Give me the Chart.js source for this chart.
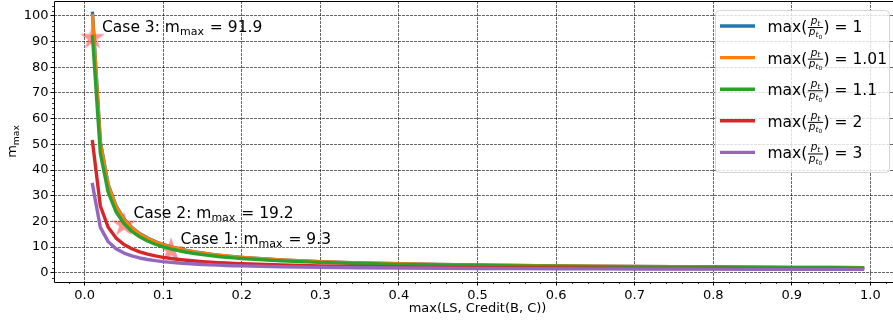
<!DOCTYPE html>
<html><head><meta charset="utf-8">
<script src="https://cdn.jsdelivr.net/npm/chart.js@4.4.0/dist/chart.umd.min.js"></script>
<style>
html,body{margin:0;padding:0;background:#fff;overflow:hidden;width:893px;height:322px;}
#wrap{position:absolute;left:0;top:0;width:905px;height:322px;}
canvas{display:block;}
</style></head><body>
<div id="wrap"><canvas id="c" width="905" height="322" style="width:905px;height:322px"></canvas></div>
<script>
// ---- data ----
const xValues = [0.01,0.02,0.03,0.04,0.05,0.06,0.07,0.08,0.09,0.10,0.11,0.12,0.13,0.14,0.15,0.16,0.17,0.18,0.19,0.20,0.25,0.30,0.35,0.40,0.45,0.50,0.55,0.60,0.65,0.70,0.75,0.80,0.85,0.90,0.95,0.99];
const mRatio1   = [101,51,34.33,26,21,17.67,15.29,13.5,12.11,11,10.09,9.33,8.69,8.14,7.67,7.25,6.88,6.56,6.26,6,5,4.33,3.86,3.5,3.22,3,2.82,2.67,2.54,2.43,2.33,2.25,2.18,2.11,2.05,2.01];
const mRatio101 = [100.01,50.5,34,25.75,20.8,17.5,15.14,13.38,12,10.9,10,9.25,8.62,8.07,7.6,7.19,6.82,6.5,6.21,5.95,4.96,4.3,3.83,3.48,3.2,2.98,2.8,2.65,2.52,2.41,2.32,2.24,2.16,2.1,2.04,2];
const mRatio11  = [91.91,46.45,31.3,23.73,19.18,16.15,13.99,12.36,11.1,10.09,9.26,8.58,7.99,7.49,7.06,6.68,6.35,6.05,5.78,5.55,4.64,4.03,3.6,3.27,3.02,2.82,2.65,2.52,2.4,2.3,2.21,2.14,2.07,2.01,1.96,1.92];
const mRatio2   = [51,26,17.67,13.5,11,9.33,8.14,7.25,6.56,6,5.55,5.17,4.85,4.57,4.33,4.13,3.94,3.78,3.63,3.5,3,2.67,2.43,2.25,2.11,2,1.91,1.83,1.77,1.71,1.67,1.63,1.59,1.56,1.53,1.51];
const mRatio3   = [34.33,17.67,12.11,9.33,7.67,6.56,5.76,5.17,4.7,4.33,4.03,3.78,3.56,3.38,3.22,3.08,2.96,2.85,2.75,2.67,2.33,2.11,1.95,1.83,1.74,1.67,1.61,1.56,1.51,1.48,1.44,1.42,1.39,1.37,1.35,1.34];
const ratioLabels = ['1','1.01','1.1','2','3'];
const seriesColors = ['#1f77b4','#ff7f0e','#2ca02c','#d62728','#9467bd'];
const caseNames = ['Case 1','Case 2','Case 3'];
const caseX = [0.11, 0.05, 0.01];
const caseY = [9.3, 19.2, 91.9];
const xTicks = [0.0,0.1,0.2,0.3,0.4,0.5,0.6,0.7,0.8,0.9,1.0];
const yTicks = [0,10,20,30,40,50,60,70,80,90,100];
const xLabel = 'max(LS, Credit(B, C))';

const FONT = '"DejaVu Sans", sans-serif';
const allSeries = [mRatio1, mRatio101, mRatio11, mRatio2, mRatio3];

// star marker image
function makeStar(R, color) {
  const s = Math.ceil(R * 2 + 2);
  const cv = document.createElement('canvas');
  cv.width = s; cv.height = s;
  const c = cv.getContext('2d');
  const cx = s / 2, cy = s / 2 + R * 0.1;
  const r = R * 0.382;
  c.beginPath();
  for (let i = 0; i < 10; i++) {
    const rad = i % 2 === 0 ? R : r;
    const a = -Math.PI / 2 + i * Math.PI / 5;
    const px = cx + rad * Math.cos(a), py = cy + rad * Math.sin(a);
    if (i === 0) c.moveTo(px, py); else c.lineTo(px, py);
  }
  c.closePath();
  c.fillStyle = color;
  c.fill();
  return cv;
}
const starImg = makeStar(13, 'rgba(255,40,40,0.5)');

const datasets = allSeries.map((arr, i) => ({
  label: 'max(pt/pt0) = ' + ratioLabels[i],
  data: xValues.map((x, j) => ({x: x, y: arr[j]})),
  borderColor: seriesColors[i],
  backgroundColor: seriesColors[i],
  borderWidth: 3.4,
  pointRadius: 0,
  tension: 0,
  borderCapStyle: 'square',
  borderJoinStyle: 'round',
  order: 5 - i
}));
datasets.push({
  type: 'scatter',
  label: 'cases',
  data: caseX.map((x, j) => ({x: x, y: caseY[j]})),
  pointStyle: starImg,
  pointRadius: 13,
  showLine: false,
  clip: false,
  order: 10
});

const GRID_COLOR = 'rgba(0,0,0,0.6)';

const decorPlugin = {
  id: 'decor',
  afterDatasetsDraw(chart) {
    const ctx = chart.ctx, a = chart.chartArea;
    const xs = chart.scales.x, ys = chart.scales.y;
    ctx.save();
    // spines
    ctx.strokeStyle = '#000'; ctx.lineWidth = 1;
    ctx.beginPath();
    ctx.moveTo(a.left + 0.5, a.top + 0.5);
    ctx.lineTo(a.left + 0.5, a.bottom + 0.5);
    ctx.lineTo(a.right + 0.5, a.bottom + 0.5);
    ctx.lineTo(a.right + 0.5, a.top + 0.5);
    ctx.closePath();
    ctx.stroke();
    // minor ticks
    ctx.lineWidth = 0.8;
    ctx.beginPath();
    for (let v = -2; v <= 104; v += 2) {
      if (v % 10 === 0) continue;
      const py = Math.round(ys.getPixelForValue(v)) + 0.5;
      if (py < a.top || py > a.bottom) continue;
      ctx.moveTo(a.left, py); ctx.lineTo(a.left - 2, py);
    }
    for (let k = -2; k <= 52; k++) {
      if (k % 5 === 0) continue;
      const v = k * 0.02;
      const px = Math.round(xs.getPixelForValue(v)) + 0.5;
      if (px < a.left || px > a.right) continue;
      ctx.moveTo(px, a.bottom); ctx.lineTo(px, a.bottom + 2);
    }
    ctx.stroke();
    // annotations
    ctx.fillStyle = '#000';
    ctx.textBaseline = 'alphabetic';
    ctx.textAlign = 'left';
    for (let i = 0; i < caseNames.length; i++) {
      let tx = xs.getPixelForValue(caseX[i]) + 9.5;
      const ty = ys.getPixelForValue(caseY[i]) - 5;
      ctx.font = '15.5px ' + FONT;
      const t1 = caseNames[i] + ': m';
      ctx.fillText(t1, tx, ty); tx += ctx.measureText(t1).width;
      ctx.font = '11px ' + FONT;
      ctx.fillText('max', tx, ty + 3); tx += ctx.measureText('max').width + 1;
      ctx.font = '15.5px ' + FONT;
      ctx.fillText(' = ' + caseY[i].toFixed(1), tx, ty);
    }
    // y axis label
    ctx.save();
    ctx.translate(16, (a.top + a.bottom) / 2);
    ctx.rotate(-Math.PI / 2);
    ctx.font = '13px ' + FONT;
    const wm = ctx.measureText('m').width;
    ctx.font = '9.2px ' + FONT;
    const ws = ctx.measureText('max').width;
    let u = -(wm + ws) / 2;
    ctx.font = '13px ' + FONT;
    ctx.fillText('m', u, 0); u += wm;
    ctx.font = '9.2px ' + FONT;
    ctx.fillText('max', u, 2.6);
    ctx.restore();
    // x axis label
    ctx.font = '13px ' + FONT;
    ctx.textAlign = 'center';
    ctx.fillText(xLabel, 477.5, 312);
    ctx.restore();
  },
  afterDraw(chart) {
    const ctx = chart.ctx;
    ctx.save();
    // legend box
    const bx = 715.5, by = 10.5, bw = 174, bh = 162, r = 4;
    ctx.beginPath();
    ctx.moveTo(bx + r, by);
    ctx.arcTo(bx + bw, by, bx + bw, by + bh, r);
    ctx.arcTo(bx + bw, by + bh, bx, by + bh, r);
    ctx.arcTo(bx, by + bh, bx, by, r);
    ctx.arcTo(bx, by, bx + bw, by, r);
    ctx.closePath();
    ctx.fillStyle = 'rgba(255,255,255,0.8)';
    ctx.fill();
    ctx.strokeStyle = 'rgba(204,204,204,0.8)';
    ctx.lineWidth = 1;
    ctx.stroke();
    for (let i = 0; i < ratioLabels.length; i++) {
      const ly = 26 + i * 31.6;
      ctx.strokeStyle = seriesColors[i];
      ctx.lineWidth = 3.4;
      ctx.lineCap = 'butt';
      ctx.beginPath(); ctx.moveTo(720, ly); ctx.lineTo(755, ly); ctx.stroke();
      drawLegendText(ctx, 767.5, ly + 6, ratioLabels[i]);
    }
    ctx.restore();
  }
};

function drawLegendText(ctx, x, base, value) {
  ctx.fillStyle = '#000';
  ctx.textAlign = 'left';
  ctx.textBaseline = 'alphabetic';
  ctx.font = '15.5px ' + FONT;
  ctx.fillText('max(', x, base); x += ctx.measureText('max(').width;
  const pf = 'italic 10.5px ' + FONT, tf = 'italic 7.5px ' + FONT, zf = '5.8px ' + FONT;
  ctx.font = pf; const wp = ctx.measureText('p').width;
  ctx.font = tf; const wt = ctx.measureText('t').width;
  ctx.font = zf; const wz = ctx.measureText('0').width;
  const numW = wp + wt, denW = wp + wt + wz;
  const fw = Math.max(numW, denW) + 3;
  const barY = base - 4.5;
  ctx.fillRect(x + 0.5, barY - 0.45, fw - 1, 1);
  let nx = x + (fw - numW) / 2;
  const nb = barY - 3.5;
  ctx.font = pf; ctx.fillText('p', nx, nb); nx += wp;
  ctx.font = tf; ctx.fillText('t', nx, nb + 1.8);
  let dx = x + (fw - denW) / 2;
  const db = barY + 7.8;
  ctx.font = pf; ctx.fillText('p', dx, db); dx += wp;
  ctx.font = tf; ctx.fillText('t', dx, db + 1.8); dx += wt;
  ctx.font = zf; ctx.fillText('0', dx, db + 3.2);
  x += fw;
  ctx.font = '15.5px ' + FONT;
  ctx.fillText(') = ' + value, x, base);
}

const tickFont = {family: 'DejaVu Sans', size: 13};
new Chart(document.getElementById('c'), {
  type: 'line',
  data: {datasets: datasets},
  plugins: [decorPlugin],
  options: {
    responsive: false,
    animation: false,
    devicePixelRatio: 1,
    layout: {autoPadding: false, padding: {left: 0, right: 4, top: 1, bottom: 0}},
    plugins: {legend: {display: false}, tooltip: {enabled: false}},
    scales: {
      x: {
        type: 'linear', min: -0.039, max: 1.039,
        afterBuildTicks: (ax) => { ax.ticks = xTicks.map(v => ({value: v})); },
        afterFit: (ax) => { ax.height = 40; ax.paddingLeft = 0; ax.paddingRight = 0; },
        ticks: {font: tickFont, color: '#000', padding: 2, maxRotation: 0, autoSkip: false,
                callback: (v) => Number(v).toFixed(1)},
        grid: {color: GRID_COLOR, lineWidth: 1, tickLength: 3.5, tickColor: '#000', tickWidth: 1},
        border: {display: false, dash: [3, 1]}
      },
      y: {
        type: 'linear', min: -3.6, max: 105.8,
        afterBuildTicks: (ax) => { ax.ticks = yTicks.map(v => ({value: v})); },
        afterFit: (ax) => { ax.width = 54; ax.paddingTop = 0; ax.paddingBottom = 0; },
        ticks: {font: tickFont, color: '#000', padding: 2, autoSkip: false,
                callback: (v) => String(v)},
        grid: {color: GRID_COLOR, lineWidth: 1, tickLength: 3.5, tickColor: '#000', tickWidth: 1},
        border: {display: false, dash: [3, 1]}
      }
    }
  }
});
</script>
</body></html>
